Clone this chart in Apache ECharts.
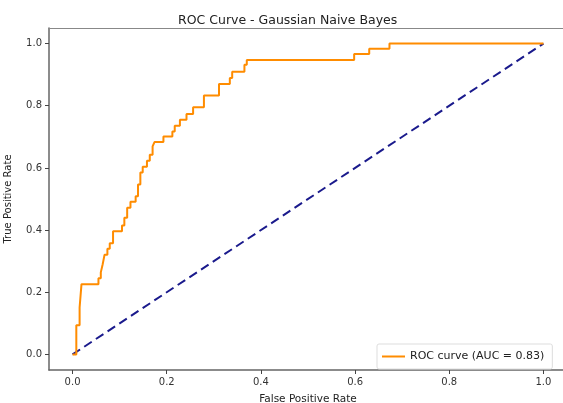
<!DOCTYPE html>
<html>
<head>
<meta charset="utf-8">
<script src="https://cdn.jsdelivr.net/npm/echarts@6/dist/echarts.min.js"></script>
<style>
  html, body { margin: 0; padding: 0; background: #fff; }
  #roc { width: 563px; height: 403px; }
</style>
</head>
<body>
<div id="roc"></div>
<script>
// corner points of the ROC curve
var fpr = [0, 0.008, 0.008, 0.015, 0.015, 0.019, 0.019, 0.055, 0.055, 0.060, 0.060, 0.064, 0.064,
  0.068, 0.068, 0.074, 0.074, 0.079, 0.079, 0.086, 0.086, 0.105, 0.105, 0.110, 0.110, 0.116, 0.116,
  0.123, 0.123, 0.134, 0.134, 0.139, 0.139, 0.144, 0.144, 0.149, 0.149, 0.158, 0.158, 0.164, 0.164,
  0.170, 0.170, 0.174, 0.174, 0.193, 0.193, 0.212, 0.212, 0.217, 0.217, 0.228, 0.228, 0.242, 0.242,
  0.256, 0.256, 0.279, 0.279, 0.311, 0.311, 0.334, 0.334, 0.339, 0.339, 0.365, 0.365, 0.370, 0.370,
  0.598, 0.598, 0.630, 0.630, 0.673, 0.673, 1.0];
var tpr = [0, 0, 0.094, 0.094, 0.151, 0.151, 0.226, 0.226, 0.245, 0.245, 0.264, 0.264, 0.290,
  0.290, 0.321, 0.321, 0.340, 0.340, 0.358, 0.358, 0.396, 0.396, 0.415, 0.415, 0.440, 0.440, 0.472,
  0.472, 0.491, 0.491, 0.509, 0.509, 0.547, 0.547, 0.585, 0.585, 0.604, 0.604, 0.623, 0.623, 0.642,
  0.642, 0.669, 0.669, 0.683, 0.683, 0.701, 0.701, 0.717, 0.717, 0.736, 0.736, 0.755, 0.755, 0.773,
  0.773, 0.795, 0.795, 0.833, 0.833, 0.870, 0.870, 0.889, 0.889, 0.909, 0.909, 0.932, 0.932, 0.947,
  0.947, 0.966, 0.966, 0.983, 0.983, 1.0, 1.0];
var chanceX = [0, 1];
var chanceY = [0, 1];
var tickVals = [0, 0.2, 0.4, 0.6, 0.8, 1.0];
var aucLabel = 'ROC curve (AUC = 0.83)';

var rocData = fpr.map(function (x, i) { return [x, tpr[i]]; });
var chanceData = chanceX.map(function (x, i) { return [x, chanceY[i]]; });

var myChart = echarts.init(document.getElementById('roc'));
var font = 'DejaVu Sans';
var option = {
  animation: false,
  textStyle: { fontFamily: font },
  title: {
    text: 'ROC Curve - Gaussian Naive Bayes',
    left: 173,
    top: 9,
    textStyle: { fontFamily: font, fontSize: 12.5, fontWeight: 'normal', color: '#222' }
  },
  legend: {
    data: [{ name: aucLabel, icon: 'rect' }],
    left: 377,
    top: 344,
    orient: 'vertical',
    backgroundColor: '#fff',
    borderColor: '#ddd',
    borderWidth: 1,
    borderRadius: 2,
    padding: [7, 8, 7, 5],
    itemWidth: 23,
    itemHeight: 2,
    itemGap: 8,
    textStyle: { fontFamily: font, fontSize: 11, color: '#222' }
  },
  grid: {
    left: 49,
    top: 28,
    width: 518,
    height: 342,
    outerBoundsMode: 'none'
  },
  xAxis: [{
    type: 'value',
    min: -0.05,
    max: 1.05,
    name: 'False Positive Rate',
    nameLocation: 'middle',
    nameGap: 24,
    nameTextStyle: { fontFamily: font, fontSize: 10.5, color: '#222' },
    splitLine: { show: false },
    axisLine: { onZero: false, lineStyle: { color: '#666', width: 1.5 } },
    axisTick: { customValues: tickVals, length: 4, lineStyle: { color: '#444' } },
    axisLabel: {
      customValues: tickVals,
      formatter: function (v) { return v.toFixed(1); },
      fontSize: 10, color: '#333', margin: 7
    }
  }, {
    // top spine only
    type: 'value',
    position: 'top',
    min: -0.05,
    max: 1.05,
    splitLine: { show: false },
    axisLine: { show: true, onZero: false, lineStyle: { color: '#888', width: 1.2 } },
    axisTick: { show: false },
    axisLabel: { show: false }
  }],
  yAxis: {
    type: 'value',
    min: -0.05,
    max: 1.05,
    name: 'True Positive Rate',
    nameLocation: 'middle',
    nameGap: 36,
    nameTextStyle: { fontFamily: font, fontSize: 10, color: '#222' },
    splitLine: { show: false },
    axisLine: { show: true, onZero: false, lineStyle: { color: '#666', width: 1.5 } },
    axisTick: { show: true, customValues: tickVals, length: 4, lineStyle: { color: '#444' } },
    axisLabel: {
      customValues: tickVals,
      formatter: function (v) { return v.toFixed(1); },
      fontSize: 10, color: '#333', margin: 7
    }
  },
  series: [{
    name: aucLabel,
    type: 'line',
    data: rocData,
    showSymbol: false,
    symbol: 'none',
    color: '#ff8c00',
    lineStyle: { color: '#ff8c00', width: 2 },
    z: 3
  }, {
    name: 'chance',
    type: 'line',
    data: chanceData,
    showSymbol: false,
    symbol: 'none',
    color: '#000080',
    lineStyle: { color: '#1a1a8c', width: 2, type: [9, 5] },
    z: 2
  }]
};
myChart.setOption(option);
</script>
</body>
</html>
